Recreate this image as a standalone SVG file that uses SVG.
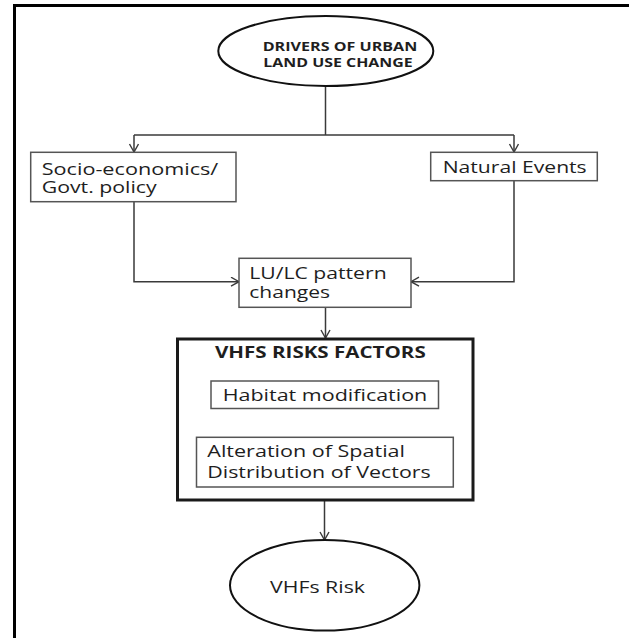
<svg xmlns="http://www.w3.org/2000/svg" width="629" height="638" viewBox="0 0 629 638">
  <style>
    .frame { fill: none; stroke: #000; stroke-width: 3; }
    .oval { fill: #fff; stroke: #111; stroke-width: 2; }
    .box { fill: #fff; stroke: #555; stroke-width: 1.5; }
    .bigbox { fill: #fff; stroke: #1a1a1a; stroke-width: 3; }
    .conn { fill: none; stroke: #3a3a3a; stroke-width: 1.5; }
    .t { font-family: "Open Sans", "Liberation Sans", Arial, sans-serif; font-size: 16px; fill: #1e1e1e; }
    .b { font-family: "Open Sans", "Liberation Sans", Arial, sans-serif; font-weight: bold; fill: #1e1e1e; }
  </style>
  <defs>
    <marker id="arr" markerWidth="12" markerHeight="12" refX="9" refY="5" orient="auto" markerUnits="userSpaceOnUse">
      <path d="M1,0.5 L9,5 L1,9.5" fill="none" stroke="#3a3a3a" stroke-width="1.4"/>
    </marker>
  </defs>
  <rect width="629" height="638" fill="#fff"/>
  <rect class="frame" x="14.5" y="5.5" width="660" height="680"/>

  <g id="connectors">
    <path class="conn" d="M325.5,86 V135"/>
    <path class="conn" d="M134,135 H514"/>
    <path class="conn" d="M134,135 V152" marker-end="url(#arr)"/>
    <path class="conn" d="M514,135 V152" marker-end="url(#arr)"/>
    <path class="conn" d="M134,201.7 V281.7 H239" marker-end="url(#arr)"/>
    <path class="conn" d="M514,180.7 V281.7 H411" marker-end="url(#arr)"/>
    <path class="conn" d="M325.5,307.3 V338" marker-end="url(#arr)"/>
    <path class="conn" d="M325,408.5 V437" marker-end="url(#arr)"/>
    <path class="conn" d="M324.5,500 V540" marker-end="url(#arr)"/>
  </g>

  <g id="drivers">
    <ellipse class="oval" cx="325.8" cy="51" rx="107.5" ry="35"/>
    <text class="b" font-size="13" x="262.7" y="50.7" textLength="154.6" lengthAdjust="spacingAndGlyphs">DRIVERS OF URBAN</text>
    <text class="b" font-size="13" x="263.3" y="66.7" textLength="149.4" lengthAdjust="spacingAndGlyphs">LAND USE CHANGE</text>
  </g>

  <g id="socio">
    <rect class="box" x="30.7" y="152.3" width="205.3" height="49.4"/>
    <text class="t" x="41.7" y="175" textLength="176.6" lengthAdjust="spacingAndGlyphs">Socio-economics/</text>
    <text class="t" x="41.7" y="192.7" textLength="115" lengthAdjust="spacingAndGlyphs">Govt. policy</text>
  </g>

  <g id="natural">
    <rect class="box" x="430.7" y="152.3" width="166.6" height="28.4"/>
    <text class="t" x="442.7" y="173.3" textLength="144" lengthAdjust="spacingAndGlyphs">Natural Events</text>
  </g>

  <g id="lulc">
    <rect class="box" x="239" y="258.3" width="172" height="49"/>
    <text class="t" x="249.3" y="279" textLength="137.3" lengthAdjust="spacingAndGlyphs">LU/LC pattern</text>
    <text class="t" x="249.3" y="298.3" textLength="80.7" lengthAdjust="spacingAndGlyphs">changes</text>
  </g>

  <g id="vhfs-factors">
    <rect class="bigbox" x="177.5" y="339" width="295.5" height="161"/>
    <text class="b" font-size="15.5" x="215" y="358" textLength="210.7" lengthAdjust="spacingAndGlyphs">VHFS RISKS FACTORS</text>
  </g>

  <g id="habitat">
    <rect class="box" x="211" y="381" width="227.5" height="27.5"/>
    <text class="t" x="222.7" y="400.7" textLength="204.6" lengthAdjust="spacingAndGlyphs">Habitat modification</text>
  </g>

  <g id="alteration">
    <rect class="box" x="196.5" y="437.3" width="256.8" height="49.7"/>
    <text class="t" x="207.3" y="456.7" textLength="197.7" lengthAdjust="spacingAndGlyphs">Alteration of Spatial</text>
    <text class="t" x="207.3" y="477.7" textLength="223.4" lengthAdjust="spacingAndGlyphs">Distribution of Vectors</text>
  </g>

  <g id="vhfs-risk">
    <ellipse class="oval" cx="324.7" cy="585.3" rx="94.7" ry="45.3"/>
    <text class="t" x="270" y="593.3" textLength="95" lengthAdjust="spacingAndGlyphs">VHFs Risk</text>
  </g>
</svg>
